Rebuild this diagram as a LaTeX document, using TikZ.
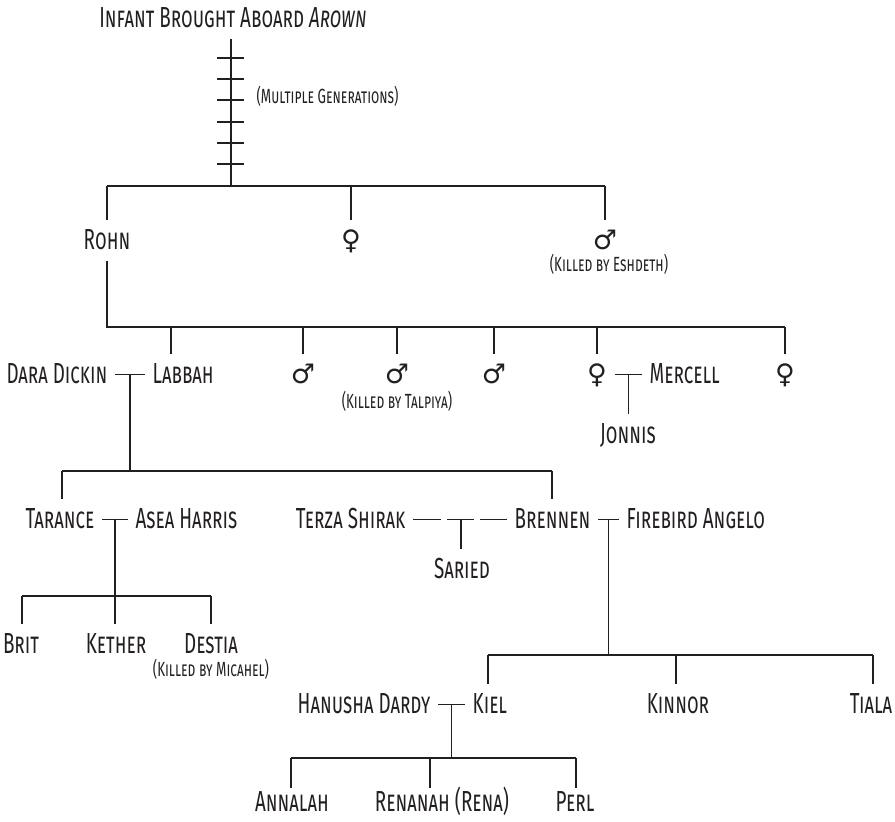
\documentclass[tikz,border=0pt]{standalone}
\usepackage{fontspec}
\setmainfont{Fira Sans}[FakeStretch=0.65]
\newfontfamily\symfont{DejaVu Sans}
\usetikzlibrary{calc}
\definecolor{ink}{RGB}{35,31,32}
\begin{document}
\begin{tikzpicture}[x=1pt,y=-1pt,line width=1.3pt,color=ink,
  person/.style={font=\fontsize{29}{29}\selectfont\scshape,inner xsep=7pt,inner ysep=9pt,text height=19pt,text depth=2pt,anchor=base},
  lastrow/.style={person,inner ysep=2pt,text height=20pt},
  note/.style={font=\fontsize{20.5}{20.5}\selectfont\scshape,inner sep=0pt,anchor=base},
  sym/.style={font=\fontsize{27}{27}\selectfont\symfont,inner xsep=7pt,inner ysep=9pt,text height=19pt,text depth=2pt,anchor=base}]
\useasboundingbox (0,0) rectangle (895,822);

% title and generations
\node[person] (title) at (233,27) {Infant Brought Aboard \textit{Arown}};
\node[note,anchor=base west] (mg) at (256,103) {(Multiple Generations)};
\coordinate (b1) at (231,186);
\draw (title.south -| b1) -- (b1);
\foreach \t in {58,79,100,122,143,164} \draw (b1 |- 0,\t) ++(-14,0) -- ++(27,0);

% row 1
\coordinate (b1L) at (107,186);
\coordinate (b1R) at (605,186);
\draw (b1L) -- (b1R);
\node[person] (rohn) at (107,249) {Rohn};
\node[sym] (f1) at (351,249) {♀};
\node[sym] (m1) at (605,249) {♂};
\node[note] (esh) at (609,271) {(Killed by Eshdeth)};
\draw (b1L) -- (b1L |- rohn.north);
\draw (f1 |- b1) -- (f1.north);
\draw (b1R) -- (b1R |- m1.north);

% row 2
\coordinate (b2L) at (107,327);
\coordinate (b2R) at (785,327);
\draw (b2L |- rohn.south) -- (b2L) -- (b2R);
\node[person,anchor=base east] (dara) at (115,383) {Dara Dickin};
\node[person,anchor=base west] (labbah) at (145,383) {Labbah};
\node[sym] (m2) at (303,383) {♂};
\node[sym] (m3) at (397,383) {♂};
\node[note] (tal) at (397,408) {(Killed by Talpiya)};
\node[sym] (m4) at (494,383) {♂};
\node[sym] (f2) at (597,383) {♀};
\node[person,anchor=base west] (mercell) at (642,383) {Mercell};
\node[sym] (f3) at (785,383) {♀};
\node[person] (jonnis) at (628,443) {Jonnis};
\coordinate (d2) at (171,327);
\draw (d2) -- (d2 |- labbah.north);
\foreach \n in {m2,m3,m4,f2,f3} \draw (\n |- b2L) -- (\n.north);
\draw (dara.east) -- (labbah.west);
\coordinate (u1) at ($(dara.east)!0.5!(labbah.west)$);
\draw (f2.east) -- (mercell.west);
\coordinate (u6) at ($(f2.east)!0.5!(mercell.west)$);
\draw (u6) -- (u6 |- jonnis.north);

% row 3
\coordinate (b3L) at (62,471);
\coordinate (b3R) at (552,471);
\draw (u1) -- (u1 |- b3L);
\draw (b3L) -- (b3R);
\node[person,anchor=base east] (tarance) at (102,528) {Tarance};
\node[person,anchor=base west] (asea) at (128,528) {Asea Harris};
\node[person,anchor=base east] (terza) at (413,528) {Terza Shirak};
\node[person,anchor=base west] (brennen) at (507,528) {Brennen};
\node[person,anchor=base west] (firebird) at (619,528) {Firebird Angelo};
\node[person] (saried) at (462,578) {Saried};
\draw (b3L) -- (b3L |- tarance.north);
\draw (b3R) -- (b3R |- brennen.north);
\draw (tarance.east) -- (asea.west);
\coordinate (u2) at ($(tarance.east)!0.5!(asea.west)$);
\draw (terza.east) -- ++(28,0);
\coordinate (u3) at ($(terza.east)+(48,0)$);
\draw ($(u3)+(-14,0)$) -- ($(u3)+(13,0)$);
\draw (u3) -- (u3 |- saried.north);
\draw ($(brennen.west)+(-27,0)$) -- (brennen.west);
\draw (brennen.east) -- (firebird.west);
\coordinate (u4) at ($(brennen.east)!0.5!(firebird.west)$);

% row 4
\coordinate (b4L) at (22,596);
\coordinate (b4R) at (211,596);
\node[person] (brit) at (21,653) {Brit};
\node[person] (kether) at (116,653) {Kether};
\node[person] (destia) at (211,653) {Destia};
\node[note] (mic) at (211,676) {(Killed by Micahel)};
\draw (b4L) -- (b4R);
\draw (u2) -- (u2 |- kether.north);
\draw (b4L) -- (b4L |- brit.north);
\draw (b4R) -- (b4R |- destia.north);

% row 5
\coordinate (b5L) at (488,655);
\coordinate (b5M) at (676,655);
\coordinate (b5R) at (873,655);
\draw (u4) -- (u4 |- b5L);
\draw (b5L) -- (b5R);
\node[person,anchor=base east] (hanusha) at (438,713) {Hanusha Dardy};
\node[person,anchor=base west] (kiel) at (465,713) {Kiel};
\node[person] (kinnor) at (678,713) {Kinnor};
\node[person] (tiala) at (871,713) {Tiala};
\draw (b5L) -- (b5L |- kiel.north);
\draw (b5M) -- (b5M |- kinnor.north);
\draw (b5R) -- (b5R |- tiala.north);
\draw (hanusha.east) -- (kiel.west);
\coordinate (u5) at ($(hanusha.east)!0.5!(kiel.west)$);

% row 6
\coordinate (b6L) at (291,758);
\coordinate (b6M) at (430,758);
\coordinate (b6R) at (576,758);
\draw (u5) -- (u5 |- b6L);
\draw (b6L) -- (b6R);
\node[lastrow] (annalah) at (292,811) {Annalah};
\node[lastrow] (renanah) at (442,811) {Renanah (Rena)};
\node[lastrow] (perl) at (575,811) {Perl};
\draw (b6L) -- (b6L |- annalah.north);
\draw (b6M) -- (b6M |- renanah.north);
\draw (b6R) -- (b6R |- perl.north);
\end{tikzpicture}
\end{document}
